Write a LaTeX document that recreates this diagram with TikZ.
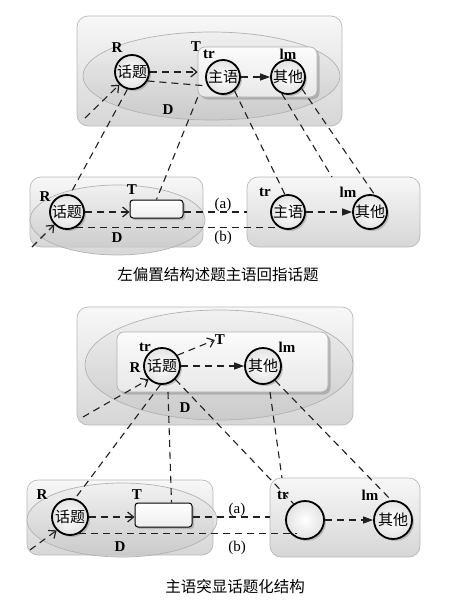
\documentclass[tikz,border=0pt]{standalone}
\usepackage{fontspec}
\setmainfont{Liberation Serif}
\newfontfamily\cjk{Noto Sans CJK SC}
\usetikzlibrary{shapes.geometric,shadows,arrows.meta,calc}
\begin{document}
\begin{tikzpicture}[x=1pt,y=-1pt,
  outerbox/.style={draw=gray!55, line width=0.7pt, rounded corners=11pt, top color=gray!6, bottom color=gray!32, inner sep=0},
  ell/.style={ellipse, draw=gray!60, line width=0.7pt, top color=gray!12, bottom color=gray!45, fill opacity=0.7, inner sep=0},
  innerbox/.style={draw=gray!60, line width=0.7pt, rounded corners=7pt, top color=gray!3, bottom color=gray!18, inner sep=0, drop shadow={opacity=0.45, shadow xshift=2.5pt, shadow yshift=-2.5pt}},
  circ/.style={circle, draw=black, line width=1.8pt, minimum size=34pt, inner sep=0, inner color=white, outer color=gray!22, drop shadow={opacity=0.4, shadow xshift=2pt, shadow yshift=-2pt}, font=\cjk\fontsize{15}{15}\selectfont},
  trect/.style={draw=black, line width=1pt, rounded corners=3pt, top color=white, bottom color=gray!14, inner sep=0, drop shadow={opacity=0.4, shadow xshift=2pt, shadow yshift=-2pt}},
  lab/.style={font=\fontsize{15}{15}\selectfont\bfseries, inner sep=0},
  plab/.style={font=\fontsize{15}{15}\selectfont, inner sep=0},
  con/.style={draw=gray!25!black, line width=1.1pt, dash pattern=on 7pt off 5pt},
  oarr/.style={con, -{Straight Barb[length=6pt,width=10pt,line width=1.2pt]}},
  farr/.style={con, -{Triangle[length=10pt,width=7pt]}},
  captxt/.style={font=\cjk\fontsize{15.5}{15.5}\selectfont, inner sep=0}
]
\useasboundingbox (0,0) rectangle (456,603);
% ================= Figure 1 : top =================
\node[outerbox, minimum width=265pt, minimum height=110pt] (t1box) at (209.5,71) {};
\node[ell, minimum width=257pt, minimum height=88pt] (t1ell) at (211.5,76) {};
\node[innerbox, minimum width=119pt, minimum height=50pt] (t1inner) at (257.5,72) {};
\node[circ] (t1topic) at (132,72) {话题};
\node[circ] (t1subj) at (223,77) {主语};
\node[circ] (t1other) at (288,77) {其他};
\node[lab] (t1R) at (117,48) {R};
\node[lab] (t1T) at (196,47) {T};
\node[lab] (t1tr) at (209,54) {tr};
\node[lab] (t1lm) at (288,54) {lm};
\node[lab] (t1D) at (168,110) {D};
% ================= Figure 1 : bottom =================
\node[outerbox, minimum width=173pt, minimum height=70pt] (b1left) at (116.5,212) {};
\node[ell, minimum width=175pt, minimum height=70pt] (b1ell) at (117.5,220) {};
\node[outerbox, minimum width=173pt, minimum height=70pt] (b1right) at (333.5,212) {};
\node[circ] (b1topic) at (67,212) {话题};
\node[trect, minimum width=53pt, minimum height=18pt] (b1T) at (156.5,209) {};
\node[circ] (b1subj) at (288,212) {主语};
\node[circ] (b1other) at (370,212) {其他};
\node[lab] (b1Tl) at (132,190) {T};
\node[lab] (b1R) at (45,197) {R};
\node[lab] (b1D) at (117,238) {D};
\node[plab] (b1a) at (223,205) {(a)};
\node[plab] (b1b) at (223,238) {(b)};
\node[lab] (b1tr) at (265,192) {tr};
\node[lab] (b1lm) at (348,192) {lm};
\node[captxt] (cap1) at (218,275) {左偏置结构述题主语回指话题};
% connectors figure 1
\coordinate (t1in) at (85,118);
\draw[oarr] (t1in) -- (t1topic.225);
\draw[oarr] (t1topic.east) -- (t1topic.east -| t1inner.west);
\draw[con] (t1topic.-30) -- (t1subj.210);
\draw[farr] (t1subj.east) -- (t1other.west);
\draw[con] (t1topic.-105) -- (b1topic.80);
\draw[con] (t1inner.south west) -- (b1T.north);
\draw[con] (t1subj.-50) -- (b1subj.100);
\coordinate (t1c4) at (332,177);
\draw[con] (t1other.-110) -- (t1c4);
\draw[con] (t1other.-40) -- (b1other.75);
\coordinate (b1in) at (32,247);
\draw[oarr] (b1in) -- (b1topic.225);
\draw[oarr] (b1topic.east) -- (b1topic.east -| b1T.west);
\draw[con] (b1topic.east -| b1T.east) -- (b1topic.east -| b1right.west);
\draw[con] (b1topic.-60) -- (b1topic.-60 -| b1subj.-120);
\draw[farr] (b1subj.east) -- (b1other.west);
% ================= Figure 2 : top =================
\node[outerbox, minimum width=276pt, minimum height=118pt] (t2box) at (215,366) {};
\node[ell, minimum width=268pt, minimum height=110pt] (t2ell) at (219,365) {};
\node[innerbox, minimum width=211pt, minimum height=60pt] (t2inner) at (222.5,362) {};
\node[circ, minimum size=36pt] (t2topic) at (162,366) {话题};
\node[circ, minimum size=36pt] (t2other) at (263,366) {其他};
\node[lab] (t2tr) at (145,347) {tr};
\node[lab] (t2R) at (135,368) {R};
\node[lab] (t2T) at (220,340) {T};
\node[lab] (t2lm) at (287,347) {lm};
\node[lab] (t2D) at (185,408) {D};
% ================= Figure 2 : bottom =================
\node[outerbox, minimum width=186pt, minimum height=75pt] (b2left) at (120,517.5) {};
\node[ell, minimum width=190pt, minimum height=74pt] (b2ell) at (122,520) {};
\node[outerbox, minimum width=150pt, minimum height=79pt] (b2right) at (345,517.5) {};
\node[circ, minimum size=36pt] (b2topic) at (70,517) {话题};
\node[trect, minimum width=57pt, minimum height=24pt] (b2T) at (163.5,515) {};
\node[circ, minimum size=38pt] (b2empty) at (305,520) {};
\node[circ, minimum size=38pt] (b2other) at (393,520) {其他};
\node[lab] (b2Tl) at (137,495) {T};
\node[lab] (b2R) at (42,495) {R};
\node[lab] (b2D) at (120,547) {D};
\node[plab] (b2a) at (237,510) {(a)};
\node[plab] (b2b) at (237,548) {(b)};
\node[lab] (b2tr) at (283,495) {tr};
\node[lab] (b2lm) at (370,495) {lm};
\node[captxt] (cap2) at (235,587) {主语突显话题化结构};
% connectors figure 2
\coordinate (t2in) at (83,417);
\draw[oarr] (t2in) -- (t2topic.225);
\draw[oarr] (t2topic.35) -- (t2T.west);
\draw[farr] (t2topic.east) -- (t2other.west);
\draw[con] (t2topic.-95) -- (b2topic.75);
\coordinate (t2v) at (168,392);
\draw[con] (t2v) -- ([xshift=8pt]b2T.north);
\draw[con] (t2topic.-45) -- (b2empty.125);
\coordinate (t2d) at (270,392);
\coordinate (t2d2) at (282,478);
\draw[con] (t2d) -- (t2d2);
\draw[con] (t2other.-50) -- (b2other.95);
\coordinate (b2in) at (30,550);
\draw[oarr] (b2in) -- (b2topic.225);
\draw[oarr] (b2topic.east) -- (b2topic.east -| b2T.west);
\draw[con] (b2topic.east -| b2T.east) -- (b2topic.east -| b2right.west);
\draw[con] (b2topic.-60) -- (b2topic.-60 -| b2empty.-115);
\draw[farr] (b2empty.east) -- (b2other.west);
\end{tikzpicture}
\end{document}
